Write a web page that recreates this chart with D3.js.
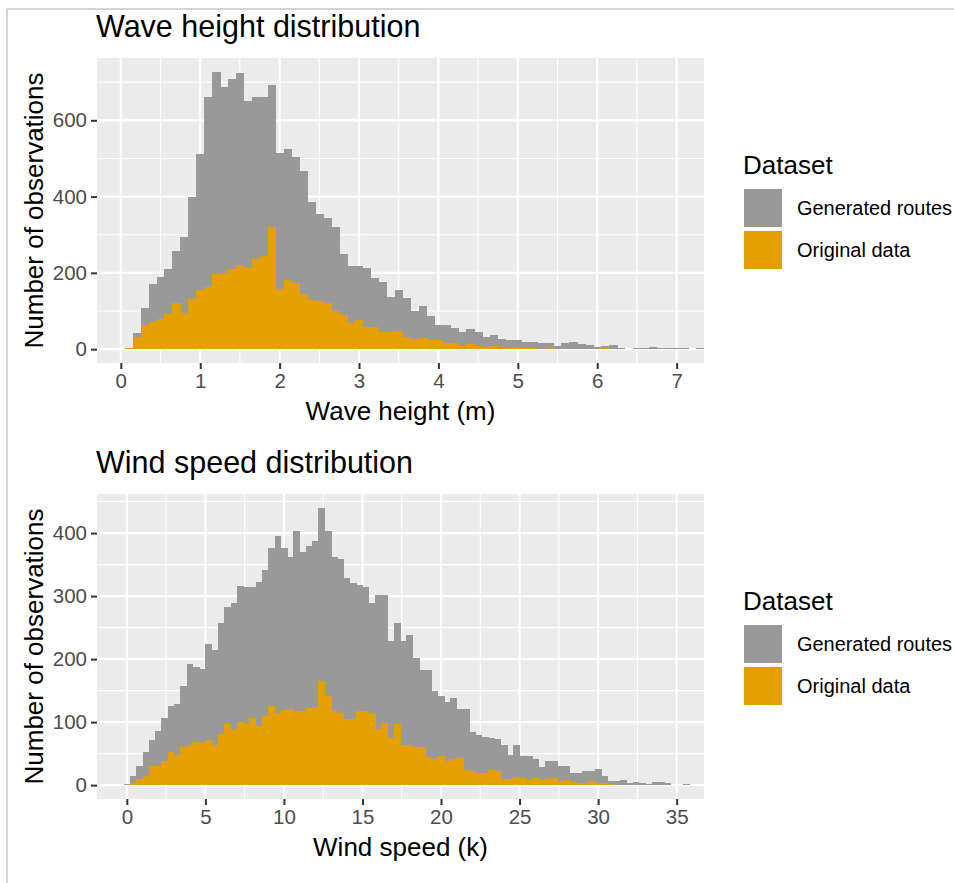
<!DOCTYPE html>
<html>
<head>
<meta charset="utf-8">
<script src="https://cdn.jsdelivr.net/npm/d3@7"></script>
<style>
  body { margin: 0; background: #fff; }
  text { font-family: "Liberation Sans", Arial, sans-serif; }
</style>
</head>
<body>
<svg id="chart"></svg>
<script>
// ---- data ----
const seriesNames = ["Generated routes", "Original data"];
const seriesColors = ["#999999", "#E69F00"];

// wave height: bins of 0.1 m starting at 0.05
const waveBinStart = 0.05, waveBinWidth = 0.1;
const waveGenerated = [3, 42, 107, 170, 189, 210, 258, 293, 400, 512,
  662, 727, 688, 708, 723, 651, 660, 662, 693, 513,
  524, 503, 467, 387, 354, 343, 321, 250, 217, 217,
  212, 186, 177, 138, 155, 134, 100, 112, 88, 64,
  62, 55, 45, 53, 45, 31, 36, 27, 24, 23,
  20, 18, 17, 16, 7, 15, 18, 13, 10, 5,
  9, 10, 4, 1, 2, 4, 6, 4, 3, 3,
  2, 1, 4];
const waveOriginal = [2, 31, 64, 71, 79, 92, 120, 96, 131, 154,
  162, 196, 199, 210, 221, 214, 236, 243, 321, 158,
  182, 173, 144, 129, 125, 120, 100, 90, 68, 77,
  57, 57, 45, 44, 48, 31, 27, 29, 25, 23,
  17, 15, 7, 13, 8, 6, 9, 4, 3, 3,
  2, 2, 1, 2, 0, 1, 1, 1, 1, 0,
  2, 1, 0, 0, 0, 1, 0, 1, 0, 1,
  0, 0, 0];
const waveXTicks = [0, 1, 2, 3, 4, 5, 6, 7];
const waveYTicks = [0, 200, 400, 600];

// wind speed: bins of 0.4 k starting at -0.2
const windBinStart = -0.2, windBinWidth = 0.4;
const windGenerated = [2, 14, 30, 52, 71, 86, 106, 126, 128, 158,
  193, 188, 184, 224, 214, 257, 282, 289, 316, 314,
  315, 323, 342, 377, 395, 377, 362, 404, 370, 380,
  388, 440, 403, 362, 359, 329, 321, 317, 315, 289,
  301, 301, 228, 258, 228, 238, 201, 182, 182, 150,
  142, 132, 139, 121, 121, 84, 80, 77, 75, 73,
  64, 48, 63, 47, 46, 41, 28, 38, 39, 31,
  31, 20, 20, 23, 23, 25, 14, 7, 7, 8,
  3, 5, 3, 2, 5, 5, 3, 1, 1, 2];
const windOriginal = [1, 4, 10, 14, 31, 30, 38, 52, 48, 60,
  63, 68, 67, 72, 64, 81, 97, 88, 100, 97,
  106, 94, 109, 126, 115, 119, 121, 118, 117, 122,
  124, 165, 141, 117, 115, 105, 105, 117, 118, 113,
  89, 98, 75, 97, 64, 64, 60, 61, 44, 41,
  47, 39, 41, 44, 24, 22, 19, 19, 24, 22,
  10, 10, 13, 11, 8, 11, 8, 10, 11, 7,
  8, 5, 4, 3, 7, 4, 3, 2, 1, 1,
  1, 0, 1, 0, 0, 1, 0, 0, 0, 0];
const windXTicks = [0, 5, 10, 15, 20, 25, 30, 35];
const windYTicks = [0, 100, 200, 300, 400];

// ---- layout ----
const width = 954, height = 883;
const svg = d3.select("#chart").attr("width", width).attr("height", height);

// screenshot frame
svg.append("line").attr("x1", 7).attr("x2", width).attr("y1", 9).attr("y2", 9)
  .attr("stroke", "#d4d4d4").attr("stroke-width", 2);
svg.append("line").attr("x1", 7).attr("x2", 7).attr("y1", 9).attr("y2", height)
  .attr("stroke", "#d4d4d4").attr("stroke-width", 2);

const panelLeft = 97, panelRight = 704, panelH = 305;

function histPanel(opts) {
  const top = opts.top;
  const g = svg.append("g");

  const yMax = d3.max(opts.gen);
  const x = d3.scaleLinear().domain(opts.xDomain).range([panelLeft, panelRight]);
  const y = d3.scaleLinear().domain([-0.05 * yMax, 1.05 * yMax]).range([top + panelH, top]);

  // panel background
  g.append("rect")
    .attr("x", panelLeft).attr("y", top)
    .attr("width", panelRight - panelLeft).attr("height", panelH)
    .attr("fill", "#EBEBEB");

  // minor grid
  const xStep = opts.xTicks[1] - opts.xTicks[0];
  const yStep = opts.yTicks[1] - opts.yTicks[0];
  const xMinor = d3.range(opts.xTicks[0] - xStep / 2, opts.xDomain[1], xStep)
    .filter(v => v > opts.xDomain[0]);
  const yMinor = d3.range(opts.yTicks[0] + yStep / 2, y.domain()[1], yStep);
  g.selectAll(".xminor").data(xMinor).enter().append("line")
    .attr("x1", d => x(d)).attr("x2", d => x(d))
    .attr("y1", top).attr("y2", top + panelH)
    .attr("stroke", "#fff").attr("stroke-width", 1.1);
  g.selectAll(".yminor").data(yMinor).enter().append("line")
    .attr("x1", panelLeft).attr("x2", panelRight)
    .attr("y1", d => y(d)).attr("y2", d => y(d))
    .attr("stroke", "#fff").attr("stroke-width", 1.1);
  // major grid
  g.selectAll(".xmajor").data(opts.xTicks).enter().append("line")
    .attr("x1", d => x(d)).attr("x2", d => x(d))
    .attr("y1", top).attr("y2", top + panelH)
    .attr("stroke", "#fff").attr("stroke-width", 2.2);
  g.selectAll(".ymajor").data(opts.yTicks).enter().append("line")
    .attr("x1", panelLeft).attr("x2", panelRight)
    .attr("y1", d => y(d)).attr("y2", d => y(d))
    .attr("stroke", "#fff").attr("stroke-width", 2.2);

  // bars: generated behind, original in front
  [opts.gen, opts.orig].forEach((vals, si) => {
    g.append("g").attr("shape-rendering", "crispEdges")
      .selectAll("rect").data(vals).enter().append("rect")
      .attr("x", (d, i) => x(opts.binStart + i * opts.binWidth))
      .attr("width", (d, i) => x(opts.binStart + (i + 1) * opts.binWidth) - x(opts.binStart + i * opts.binWidth) + 0.5)
      .attr("y", d => y(d))
      .attr("height", d => y(0) - y(d))
      .attr("fill", seriesColors[si]);
  });

  // clip bars beyond panel edges
  g.append("rect").attr("x", panelRight).attr("y", top - 2).attr("width", 20).attr("height", panelH + 4).attr("fill", "#fff");

  // axes
  const xAxis = d3.axisBottom(x).tickValues(opts.xTicks).tickSize(6).tickPadding(4);
  const yAxis = d3.axisLeft(y).tickValues(opts.yTicks).tickSize(6).tickPadding(4);
  const gx = g.append("g").attr("transform", `translate(0,${top + panelH})`).call(xAxis);
  const gy = g.append("g").attr("transform", `translate(${panelLeft},0)`).call(yAxis);
  [gx, gy].forEach(a => {
    a.select(".domain").remove();
    a.selectAll(".tick line").attr("stroke", "#333").attr("stroke-width", 2);
    a.selectAll(".tick text").attr("fill", "#4D4D4D").style("font-size", "20.5px")
      .style("font-family", "'Liberation Sans', Arial, sans-serif");
  });

  // title
  g.append("text").attr("x", 96).attr("y", top - 21)
    .style("font-size", "30.5px").attr("fill", "#000")
    .text(opts.title);
  // axis titles
  g.append("text").attr("x", (panelLeft + panelRight) / 2).attr("y", top + panelH + 57)
    .attr("text-anchor", "middle").style("font-size", "26px").attr("fill", "#000")
    .text(opts.xTitle);
  g.append("text")
    .attr("transform", `translate(43,${top + panelH / 2}) rotate(-90)`)
    .attr("text-anchor", "middle").style("font-size", "26px").attr("fill", "#000")
    .text("Number of observations");

  // legend
  const lg = g.append("g").attr("transform", `translate(743,${top})`);
  lg.append("text").attr("x", 0).attr("y", 116).style("font-size", "26px").attr("fill", "#000").text("Dataset");
  seriesNames.forEach((name, i) => {
    lg.append("rect").attr("x", 1).attr("y", 131 + i * 42).attr("width", 38).attr("height", 38)
      .attr("fill", seriesColors[i]);
    const t = lg.append("text").attr("x", 54).attr("y", 150 + i * 42).attr("dy", "0.35em")
      .style("font-size", "20px").attr("fill", "#000").text(name);
    // keep the long label inside the page edge
    const maxLen = width - 743 - 54 - 2;
    if (t.node().getComputedTextLength() > maxLen) {
      t.attr("textLength", maxLen).attr("lengthAdjust", "spacingAndGlyphs");
    }
  });
}

histPanel({
  top: 58, title: "Wave height distribution", xTitle: "Wave height (m)",
  gen: waveGenerated, orig: waveOriginal,
  binStart: waveBinStart, binWidth: waveBinWidth,
  xDomain: [-0.30, 7.345], xTicks: waveXTicks, yTicks: waveYTicks
});
histPanel({
  top: 494, title: "Wind speed distribution", xTitle: "Wind speed (k)",
  gen: windGenerated, orig: windOriginal,
  binStart: windBinStart, binWidth: windBinWidth,
  xDomain: [-1.9, 36.74], xTicks: windXTicks, yTicks: windYTicks
});
</script>
</body>
</html>
